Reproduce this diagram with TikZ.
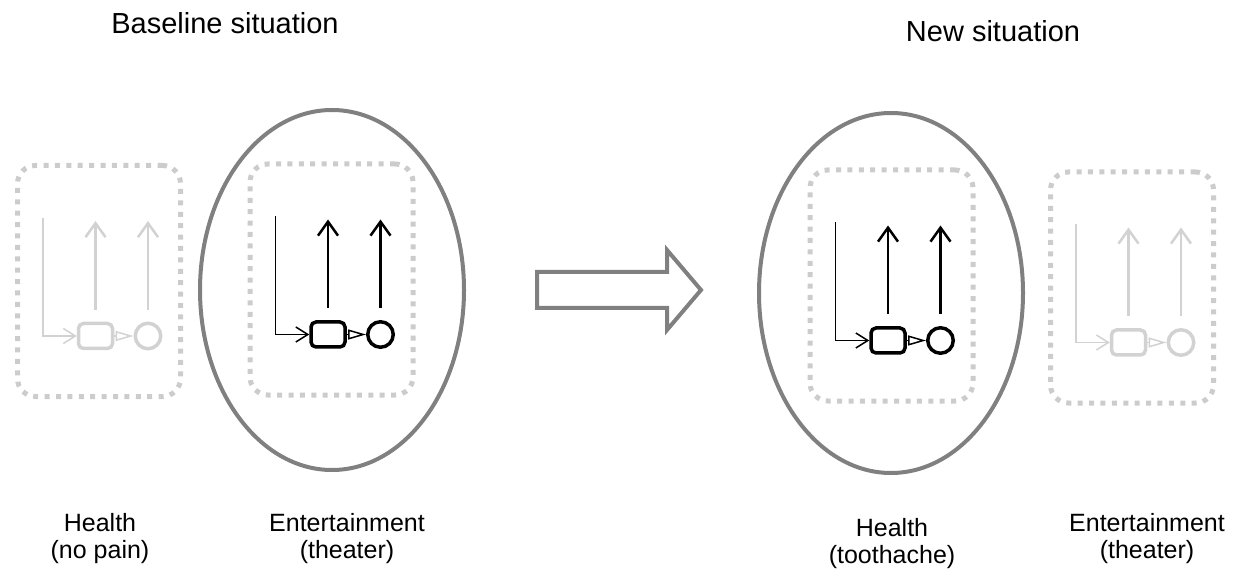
\documentclass[tikz,border=0pt]{standalone}
\usepackage{fontspec}
\setmainfont{Liberation Sans}
\usepackage{tikz}
\usetikzlibrary{arrows.meta,positioning,calc,shapes.geometric}
\definecolor{ink}{RGB}{0,0,0}
\definecolor{faint}{RGB}{210,210,210}
\definecolor{dots}{RGB}{204,204,204}
\definecolor{rim}{RGB}{128,128,128}
\tikzset{
  frame/.style = {draw=dots, line width=2.5pt, dash pattern=on 2.5pt off 3.2pt,
                  rounded corners=9pt, minimum width=81.5pt, minimum height=115.5pt},
  focus/.style = {ellipse, draw=rim, line width=2pt, inner sep=0pt,
                  minimum width=132pt, minimum height=180pt},
  act/.style   = {rounded corners=2.5pt, draw, line width=1.75pt, inner sep=0pt,
                  minimum width=17pt, minimum height=12.5pt},
  res/.style   = {circle, draw, line width=1.75pt, inner sep=0pt, minimum size=12.75pt},
  feed/.style  = {line width=0.75pt, -{Straight Barb[length=6pt,width=7.5pt]}},
  goal/.style  = {line width=1.25pt, -{Straight Barb[length=7pt,width=10pt]}},
  link/.style  = {line width=0.75pt, -{Triangle[open,length=9pt,width=5pt]}},
  head/.style  = {font=\fontsize{14.5}{17}\selectfont, anchor=base, inner sep=0pt},
  tag/.style   = {font=\fontsize{12.5}{13.5}\selectfont, align=center, anchor=north, inner sep=0pt},
}

\begin{document}
\begin{tikzpicture}[x=0.5pt, y=-0.5pt]
\useasboundingbox (0,0) rectangle (1241,571);

% Titles
\node[head] (base-title) at (225,34) {Baseline situation};
\node[head] (new-title) at (993,42) {New situation};

% Goal units: dotted frame, activity box, result circle
\foreach \n/\cx/\cy/\col in {hl/99/281/faint, el/331.5/279.5/ink, hr/891.5/285.5/ink, er/1132/287.5/faint}{
  \node[frame] (\n-frame) at (\cx,\cy) {};
  \coordinate (\n-top) at ($(\cx,\cy)+(-56,-63)$);
  \node[act, draw=\col] (\n-box) at ($(\cx,\cy)+(-3.5,55)$) {};
  \node[res, draw=\col] (\n-res) at ($(\cx,\cy)+(49,55)$) {};
  \coordinate (\n-g1) at ($(\cx,\cy)+(-3.5,-60)$);
  \coordinate (\n-g2) at ($(\cx,\cy)+(49,-60)$);
  \draw[feed, draw=\col] (\n-top) |- (\n-box);
  \draw[link, draw=\col] (\n-box) -- (\n-res);
  \draw[goal, draw=\col, shorten <=6pt] (\n-box) -- (\n-g1);
  \draw[goal, draw=\col, shorten <=5.75pt] (\n-res) -- (\n-g2);
}

% Active goal in each situation
\node[focus] (el-oval) at (332,290) {};
\node[focus] (hr-oval) at (891,293) {};

% Shift between situations
\draw[rim, line width=2pt] (537,272) -- (667,272) -- (667,250) -- (701,290)
  -- (667,330) -- (667,308) -- (537,308) -- cycle;

% Labels
\node[tag] (hl-tag) at (100,513) {Health\\(no pain)};
\node[tag] (el-tag) at (347,513) {Entertainment\\(theater)};
\node[tag] (hr-tag) at (892,518) {Health\\(toothache)};
\node[tag] (er-tag) at (1147,513) {Entertainment\\(theater)};
\end{tikzpicture}
\end{document}
